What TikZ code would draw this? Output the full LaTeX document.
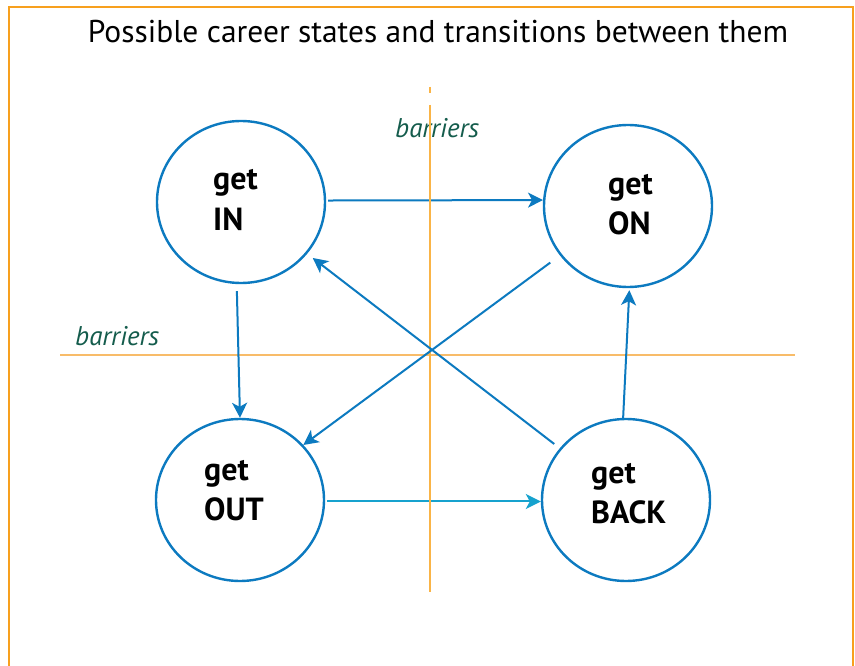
\documentclass[tikz,border=0pt]{standalone}
\usepackage{fontspec}
\setmainfont{PT Sans}
\usetikzlibrary{shapes.geometric,arrows.meta}
\definecolor{frameor}{RGB}{247,160,30}
\definecolor{vor}{RGB}{250,180,70}
\definecolor{hor}{RGB}{248,188,105}
\definecolor{cblue}{RGB}{12,122,192}
\definecolor{ccyan}{RGB}{22,162,206}
\definecolor{bgreen}{RGB}{20,92,76}
\tikzset{
  state/.style={ellipse, draw=cblue, line width=2.4pt, fill=white, minimum width=168pt, minimum height=162pt, inner sep=0pt},
  lbl/.style={anchor=base west, inner sep=0pt, font=\fontsize{32}{32}\selectfont\bfseries},
  bar/.style={anchor=base west, inner sep=0pt, text=bgreen, font=\fontsize{27}{27}\selectfont\itshape},
  conn/.style={draw=cblue, line width=2pt, -{Stealth[length=15pt,width=15pt,inset=4pt]}},
}
\begin{document}
\begin{tikzpicture}[x=1pt,y=-1pt]
\useasboundingbox (0,0) rectangle (855,666);
\fill[white] (0,0) rectangle (855,666);
\draw[frameor, line width=2.5pt] (9,7) rectangle (853,690);
\node[anchor=base, inner sep=0pt, font=\fontsize{31.5}{31.5}\selectfont] (title) at (438,43) {Possible career states and transitions between them};
% barrier lines
\coordinate (hl) at (60,355);
\coordinate (hr) at (795,355);
\draw[hor, line width=1.6pt] (hl) -- (hr);
\node[bar] (bar1) at (75,345) {barriers};
\node[bar] (bar2) at (395,138) {barriers};
% states
\node[state] (IN) at (241,202) {};
\node[state] (ON) at (628,206) {};
\node[state] (OUT) at (240,500) {};
\node[state] (BACK) at (626,500) {};
\node[lbl] (INa) at (213,190) {get};
\node[lbl] (INb) at (213,230) {IN};
\node[lbl] (ONa) at (608,195) {get};
\node[lbl] (ONb) at (608,235) {ON};
\node[lbl] (OUTa) at (204,480) {get};
\node[lbl] (OUTb) at (204,520) {OUT};
\node[lbl] (BACKa) at (591,483) {get};
\node[lbl] (BACKb) at (591,523) {BACK};
% horizontal transitions
\draw[conn, shorten <=2pt] (IN.1) -- (ON.176.6);
\draw[conn, draw=ccyan, -{Stealth[length=15pt,width=15pt,inset=4pt,color=ccyan]}, shorten <=2pt] (OUT.-1) -- (BACK.181);
% vertical barrier line
\coordinate (vt1) at (430,87);
\coordinate (vt2) at (430,93);
\coordinate (vt3) at (430,105);
\coordinate (vb) at (430,592);
\draw[vor, line width=1.6pt] (vt1) -- (vt2) (vt3) -- (vb);
% other transitions
\draw[conn, shorten <=7pt] (IN.267) -- (OUT.90.5);
\draw[conn, shorten >=2pt] (BACK.92) -- (ON.-89);
\draw[conn, shorten <=12pt] (ON.216.9) -- (OUT.41.3);
\draw[conn, shorten <=7pt, shorten >=7pt] (BACK.142.6) -- (IN.-38.7);
\end{tikzpicture}
\end{document}
